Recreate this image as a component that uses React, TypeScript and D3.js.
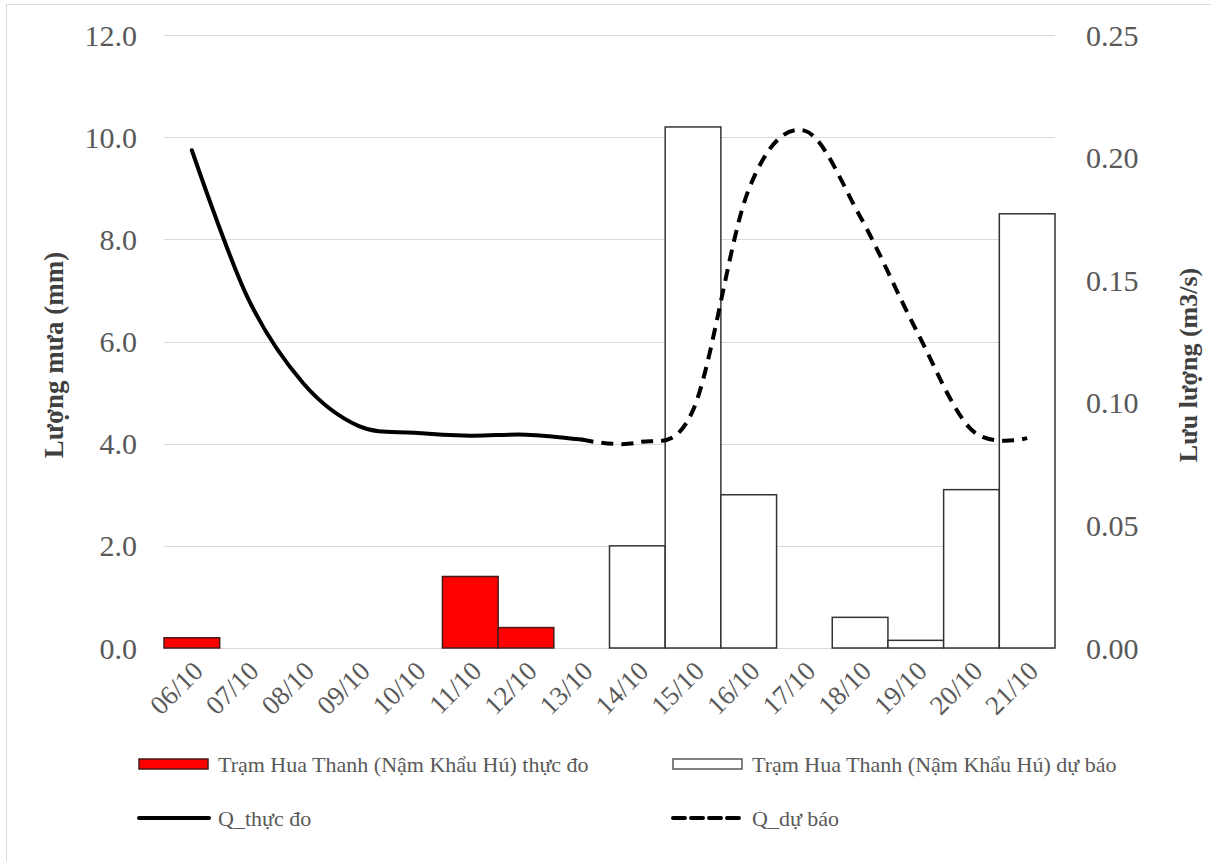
import { useEffect, useRef } from "react";
import * as d3 from "d3";

const DATES = ["06/10", "07/10", "08/10", "09/10", "10/10", "11/10", "12/10", "13/10", "14/10", "15/10", "16/10", "17/10", "18/10", "19/10", "20/10", "21/10"];
// rainfall (mm), measured and forecast
const RAIN_OBS: (number | null)[] = [0.2, 0, 0, 0, 0, 1.4, 0.4, 0, null, null, null, null, null, null, null, null];
const RAIN_FC: (number | null)[] = [null, null, null, null, null, null, null, null, 2.0, 10.2, 3.0, 0, 0.6, 0.15, 3.1, 8.5];
// discharge (m3/s)
const Q_OBS: (number | null)[] = [0.203, 0.143, 0.108, 0.0905, 0.0878, 0.0866, 0.087, 0.085, null, null, null, null, null, null, null, null];
const Q_FC: (number | null)[] = [null, null, null, null, null, null, null, 0.085, 0.0838, 0.097, 0.187, 0.211, 0.176, 0.13, 0.089, 0.0856];
const RAIN_TICKS = [0, 2, 4, 6, 8, 10, 12];
const Q_TICKS = [0, 0.05, 0.1, 0.15, 0.2, 0.25];

const LEGEND = [
  { label: "Trạm Hua Thanh (Nậm Khẩu Hú) thực đo", kind: "obsBar" },
  { label: "Trạm Hua Thanh (Nậm Khẩu Hú) dự báo", kind: "fcBar" },
  { label: "Q_thực đo", kind: "obsLine" },
  { label: "Q_dự báo", kind: "fcLine" },
];

const SERIF = "'Liberation Serif', 'Times New Roman', serif";

function RainChart() {
  const ref = useRef<SVGSVGElement>(null);
  useEffect(() => {
    const el = ref.current;
    if (!el) return;
    const W = 1211, H = 861;
    const svg = d3.select(el).attr("width", W).attr("height", H).attr("viewBox", `0 0 ${W} ${H}`);
    svg.selectAll("*").remove();
    svg.append("rect").attr("width", W).attr("height", H).attr("fill", "#fff");
    // chart area border (only top & left visible)
    svg.append("line").attr("x1", 6.5).attr("x2", 6.5).attr("y1", 4).attr("y2", H).attr("stroke", "#d9d9d9");
    svg.append("line").attr("x1", 6).attr("x2", W).attr("y1", 4.5).attr("y2", 4.5).attr("stroke", "#d9d9d9");

    const L = 164, R = 1055, T = 35, B = 648;
    const x = d3.scaleBand<string>().domain(DATES).range([L, R]).padding(0);
    const yL = d3.scaleLinear().domain([0, 12]).range([B, T]);
    const yR = d3.scaleLinear().domain([0, 0.25]).range([B, T]);

    // gridlines + left ticks
    RAIN_TICKS.forEach((t) => {
      svg.append("line").attr("x1", L).attr("x2", R).attr("y1", Math.round(yL(t)) + 0.5).attr("y2", Math.round(yL(t)) + 0.5).attr("stroke", "#d9d9d9").attr("stroke-width", 1.2);
      svg.append("text").attr("x", 137).attr("y", yL(t)).attr("dy", "0.35em").attr("text-anchor", "end").attr("fill", "#595959").attr("font-size", 30).attr("font-family", SERIF).text(t.toFixed(1));
    });
    Q_TICKS.forEach((t) => {
      svg.append("text").attr("x", 1086).attr("y", yR(t)).attr("dy", "0.35em").attr("text-anchor", "start").attr("fill", "#595959").attr("font-size", 30).attr("font-family", SERIF).text(t.toFixed(2));
    });

    // x labels
    DATES.forEach((d) => {
      const cx = (x(d) ?? 0) + x.bandwidth() / 2;
      svg.append("text").attr("transform", `translate(${cx + 6},${666}) rotate(-45)`).attr("dy", "0.35em").attr("text-anchor", "end").attr("fill", "#595959").attr("font-size", 27).attr("font-family", SERIF).text(d);
    });

    // axis titles
    svg.append("text").attr("transform", `translate(63,355) rotate(-90)`).attr("text-anchor", "middle").attr("fill", "#404040").attr("font-size", 27).attr("font-weight", "bold").attr("font-family", SERIF).text("Lượng mưa (mm)");
    svg.append("text").attr("transform", `translate(1197,365) rotate(-90)`).attr("text-anchor", "middle").attr("fill", "#404040").attr("font-size", 26).attr("font-weight", "bold").attr("font-family", SERIF).text("Lưu lượng (m3/s)");

    // bars
    const bars = (vals: (number | null)[], fill: string, stroke: string) => {
      svg.append("g").selectAll("rect").data(DATES.map((d, i) => ({ d, v: vals[i] })).filter((p) => p.v != null && p.v > 0)).join("rect")
        .attr("x", (p) => x(p.d) ?? 0).attr("width", x.bandwidth())
        .attr("y", (p) => yL(p.v as number)).attr("height", (p) => B - yL(p.v as number))
        .attr("fill", fill).attr("stroke", stroke).attr("stroke-width", 1.5);
    };
    bars(RAIN_OBS, "#ff0000", "#4a1a1a");
    bars(RAIN_FC, "#ffffff", "#333333");

    // discharge lines
    const line = d3.line<{ d: string; v: number | null }>()
      .defined((p) => p.v != null)
      .x((p) => (x(p.d) ?? 0) + x.bandwidth() / 2)
      .y((p) => yR(p.v as number))
      .curve(d3.curveCatmullRom.alpha(0));
    const pts = (vals: (number | null)[]) => DATES.map((d, i) => ({ d, v: vals[i] }));
    svg.append("path").attr("d", line(pts(Q_OBS))).attr("fill", "none").attr("stroke", "#000").attr("stroke-width", 4).attr("stroke-linecap", "round");
    svg.append("path").attr("d", line(pts(Q_FC))).attr("fill", "none").attr("stroke", "#000").attr("stroke-width", 4).attr("stroke-dasharray", "12,8");

    // legend
    const cols = [139, 673], rows = [764, 818];
    LEGEND.forEach((item, i) => {
      const lx = cols[i % 2], ly = rows[Math.floor(i / 2)];
      const g = svg.append("g");
      if (item.kind === "obsBar") {
        g.append("rect").attr("x", lx).attr("y", ly - 5).attr("width", 69).attr("height", 10).attr("fill", "#ff0000").attr("stroke", "#4a1a1a").attr("stroke-width", 1.5);
      } else if (item.kind === "fcBar") {
        g.append("rect").attr("x", lx).attr("y", ly - 5).attr("width", 69).attr("height", 10).attr("fill", "#fff").attr("stroke", "#595959").attr("stroke-width", 1.5);
      } else {
        g.append("line").attr("x1", lx).attr("x2", lx + 70).attr("y1", ly).attr("y2", ly).attr("stroke", "#000").attr("stroke-width", 4)
          .attr("stroke-dasharray", item.kind === "fcLine" ? "12,6" : null).attr("stroke-linecap", "round");
      }
      g.append("text").attr("x", lx + 79).attr("y", ly).attr("dy", "0.35em").attr("fill", "#595959").attr("font-size", 22).attr("font-family", SERIF).text(item.label);
    });
  }, []);
  return <svg ref={ref} role="img" aria-label="Rainfall and discharge chart" style={{ position: "absolute", left: 0, top: 0, display: "block" }} />;
}

export default function App() {
  return <RainChart />;
}
